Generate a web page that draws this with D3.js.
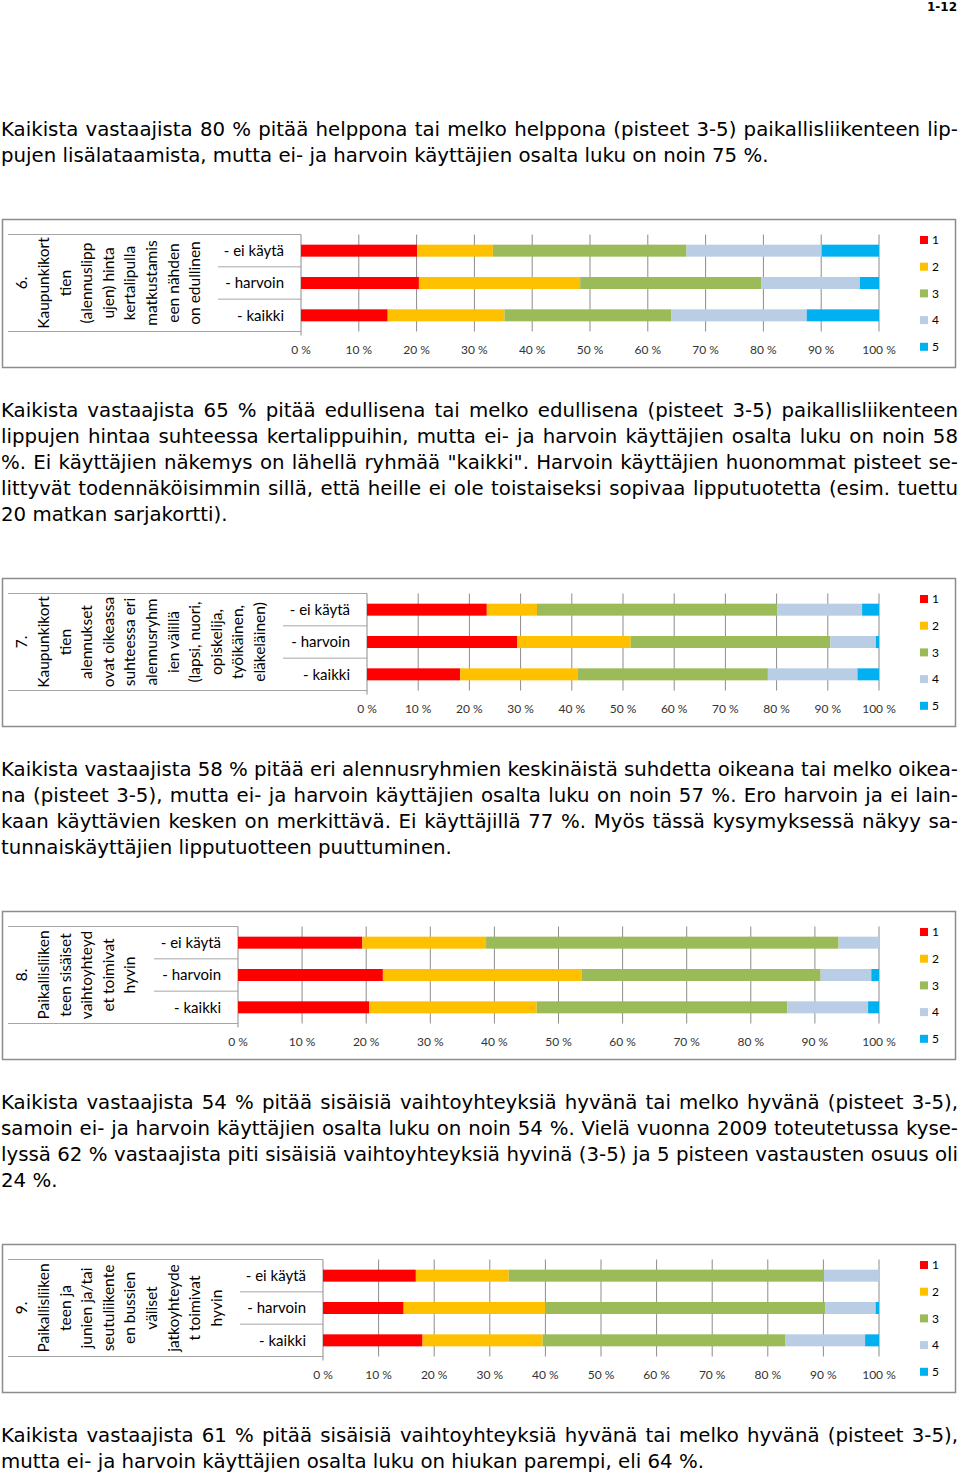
<!DOCTYPE html>
<html><head><meta charset="utf-8">
<script src="https://cdn.jsdelivr.net/npm/d3@7"></script>
<style>
html,body{margin:0;padding:0;background:#fff;}
svg{display:block;}
</style></head>
<body>
<svg id="page" width="960" height="1473"></svg>
<script>
// ---------- DATA ----------
const scoreKeys = ["1", "2", "3", "4", "5"];
const scoreColors = ["#FF0000", "#FFC000", "#9BBB59", "#B9CDE5", "#00B0F0"];
const rowLabels = ["- ei käytä", "- harvoin", "- kaikki"];
const tickValues = [0, 10, 20, 30, 40, 50, 60, 70, 80, 90, 100];
const tickLabels = ["0 %", "10 %", "20 %", "30 %", "40 %", "50 %", "60 %", "70 %", "80 %", "90 %", "100 %"];

const q6Title = ["6.", "Kaupunkikort", "tien", "(alennuslipp", "ujen) hinta", "kertalipulla", "matkustamis", "een nähden", "on edullinen"];
const q6Values = [
  [20.1, 13.1, 33.5, 23.4, 9.9],
  [20.4, 27.9, 31.3, 17.1, 3.3],
  [15.0, 20.2, 28.9, 23.4, 12.5]
];
const q7Title = ["7.", "Kaupunkikort", "tien", "alennukset", "ovat oikeassa", "suhteessa eri", "alennusryhm", "ien välillä", "(lapsi, nuori,", "opiskelija,", "työikäinen,", "eläkeläinen)"];
const q7Values = [
  [23.4, 9.8, 46.9, 16.6, 3.3],
  [29.3, 22.2, 39.0, 8.9, 0.6],
  [18.2, 23.0, 37.1, 17.5, 4.2]
];
const q8Title = ["8.", "Paikallisliiken", "teen sisäiset", "vaihtoyhteyd", "et toimivat", "hyvin"];
const q8Values = [
  [19.4, 19.3, 55.0, 6.3, 0.0],
  [22.6, 31.0, 37.3, 7.9, 1.2],
  [20.5, 26.1, 39.1, 12.6, 1.7]
];
const q9Title = ["9.", "Paikallisliiken", "teen ja", "junien ja/tai", "seutuliikente", "en bussien", "väliset", "jatkoyhteyde", "t toimivat", "hyvin"];
const q9Values = [
  [16.7, 16.7, 56.7, 9.9, 0.0],
  [14.5, 25.5, 50.3, 9.1, 0.6],
  [17.9, 21.6, 43.6, 14.4, 2.5]
];

const para1 = [
  "Kaikista vastaajista 80 % pitää helppona tai melko helppona (pisteet 3-5) paikallisliikenteen lip-",
  "pujen lisälataamista, mutta ei- ja harvoin käyttäjien osalta luku on noin 75 %."
];
const para2 = [
  "Kaikista vastaajista 65 % pitää edullisena tai melko edullisena (pisteet 3-5) paikallisliikenteen",
  "lippujen hintaa suhteessa kertalippuihin, mutta ei- ja harvoin käyttäjien osalta luku on noin 58",
  "%. Ei käyttäjien näkemys on lähellä ryhmää \"kaikki\". Harvoin käyttäjien huonommat pisteet se-",
  "littyvät todennäköisimmin sillä, että heille ei ole toistaiseksi sopivaa lipputuotetta (esim. tuettu",
  "20 matkan sarjakortti)."
];
const para3 = [
  "Kaikista vastaajista 58 % pitää eri alennusryhmien keskinäistä suhdetta oikeana tai melko oikea-",
  "na (pisteet 3-5), mutta ei- ja harvoin käyttäjien osalta luku on noin 57 %. Ero harvoin ja ei lain-",
  "kaan käyttävien kesken on merkittävä. Ei käyttäjillä 77 %. Myös tässä kysymyksessä näkyy sa-",
  "tunnaiskäyttäjien lipputuotteen puuttuminen."
];
const para4 = [
  "Kaikista vastaajista 54 % pitää sisäisiä vaihtoyhteyksiä hyvänä tai melko hyvänä (pisteet 3-5),",
  "samoin ei- ja harvoin käyttäjien osalta luku on noin 54 %. Vielä vuonna 2009 toteutetussa kyse-",
  "lyssä 62 % vastaajista piti sisäisiä vaihtoyhteyksiä hyvinä (3-5) ja 5 pisteen vastausten osuus oli",
  "24 %."
];
const para5 = [
  "Kaikista vastaajista 61 % pitää sisäisiä vaihtoyhteyksiä hyvänä tai melko hyvänä (pisteet 3-5),",
  "mutta ei- ja harvoin käyttäjien osalta luku on hiukan parempi, eli 64 %."
];
const pageLabel = "1-12";

// ---------- DRAW ----------
const svg = d3.select("#page");

// page number
svg.append("text").attr("x", 957).attr("y", 11).attr("text-anchor", "end")
  .attr("font-family", "DejaVu Sans, Verdana, sans-serif").attr("font-weight", "bold")
  .attr("font-size", 12).attr("fill", "#000").text(pageLabel);

// paragraphs
const bodyFont = "DejaVu Sans, Verdana, sans-serif";
const probe = svg.append("text").attr("font-family", bodyFont).attr("font-size", 15).text(para1[1]);
const natW = probe.node().getComputedTextLength();
probe.remove();
const bodySize = 15 * 768 / natW;

function drawParagraph(lines, yCenter) {
  lines.forEach((line, i) => {
    const t = svg.append("text")
      .attr("x", 1).attr("y", yCenter + 5.5 + i * 26)
      .attr("font-family", bodyFont).attr("font-size", bodySize)
      .attr("fill", "#000").attr("xml:space", "preserve").text(line);
    if (i < lines.length - 1) {
      const w = t.node().getComputedTextLength();
      const spaces = (line.match(/ /g) || []).length;
      if (spaces > 0) t.attr("word-spacing", (957 - w) / spaces);
    }
  });
}
drawParagraph(para1, 130);
drawParagraph(para2, 411);
drawParagraph(para3, 770);
drawParagraph(para4, 1103);
drawParagraph(para5, 1436);

// charts
const chartFont = "Lato, Carlito, Calibri, sans-serif";
function drawChart(top, plotX0, labelColX, titleLines, values) {
  const g = svg.append("g");
  // frame
  g.append("rect").attr("x", 2.5).attr("y", top + 0.5).attr("width", 953).attr("height", 148)
    .attr("fill", "#fff").attr("stroke", "#8c8c8c").attr("stroke-width", 1.5);

  const plotTop = top + 15.5, plotBot = top + 112.5;
  const x = d3.scaleLinear().domain([0, 100]).range([plotX0, 879]);
  const y = d3.scaleBand().domain(rowLabels).range([plotTop, plotBot]).paddingInner(0).paddingOuter(0);

  // table lines on the left
  const lineCol = "#a6a6a6";
  g.append("line").attr("x1", 8).attr("x2", plotX0).attr("y1", plotTop).attr("y2", plotTop).attr("stroke", lineCol);
  g.append("line").attr("x1", 8).attr("x2", plotX0).attr("y1", plotBot).attr("y2", plotBot).attr("stroke", lineCol);
  rowLabels.slice(1).forEach(r => {
    g.append("line").attr("x1", labelColX).attr("x2", plotX0)
      .attr("y1", y(r)).attr("y2", y(r)).attr("stroke", lineCol);
  });

  // gridlines
  g.append("g").selectAll("line").data(tickValues.slice(1)).join("line")
    .attr("x1", d => x(d)).attr("x2", d => x(d))
    .attr("y1", plotTop).attr("y2", plotBot)
    .attr("stroke", "#8c8c8c").attr("stroke-width", 1);
  // axis line
  g.append("line").attr("x1", plotX0).attr("x2", plotX0).attr("y1", plotTop).attr("y2", plotBot + 4)
    .attr("stroke", "#8c8c8c");

  // tick labels
  g.append("g").selectAll("text").data(tickValues).join("text")
    .attr("x", d => x(d)).attr("y", top + 135)
    .attr("text-anchor", "middle").attr("font-family", chartFont).attr("font-size", 12)
    .attr("fill", "#333").text((d, i) => tickLabels[i]);

  // stacked bars
  const rows = values.map((v, i) => {
    const obj = { label: rowLabels[i] };
    scoreKeys.forEach((k, j) => obj[k] = v[j]);
    return obj;
  });
  const series = d3.stack().keys(scoreKeys)(rows);
  const barH = 12;
  g.append("g").selectAll("g").data(series).join("g")
    .attr("fill", (d, i) => scoreColors[i])
    .selectAll("rect").data(d => d).join("rect")
    .attr("x", d => x(d[0])).attr("width", d => Math.max(0, x(d[1]) - x(d[0])))
    .attr("y", d => y(d.data.label) + (y.bandwidth() - barH) / 2)
    .attr("height", barH);

  // row labels
  g.append("g").selectAll("text").data(rowLabels).join("text")
    .attr("x", plotX0 - 17).attr("y", d => y(d) + y.bandwidth() / 2)
    .attr("dy", "0.35em").attr("text-anchor", "end")
    .attr("font-family", chartFont).attr("font-size", 15).attr("fill", "#000").text(d => d);

  // rotated title
  const cy = (plotTop + plotBot) / 2;
  g.append("g").selectAll("text").data(titleLines).join("text")
    .attr("transform", (d, i) => `translate(${22 + i * 21.6},${cy}) rotate(-90)`)
    .attr("dy", "0.35em").attr("text-anchor", "middle")
    .attr("font-family", chartFont).attr("font-size", 15.5).attr("fill", "#000").text(d => d);

  // legend
  const lg = g.append("g").selectAll("g").data(scoreKeys).join("g")
    .attr("transform", (d, i) => `translate(920,${top + 21 + i * 26.7})`);
  lg.append("rect").attr("x", 0).attr("y", -4).attr("width", 8).attr("height", 8)
    .attr("fill", (d, i) => scoreColors[i]);
  lg.append("text").attr("x", 12).attr("y", 0).attr("dy", "0.35em")
    .attr("font-family", chartFont).attr("font-size", 12).attr("fill", "#000").text(d => d);
}

drawChart(219, 301, 218, q6Title, q6Values);
drawChart(578, 367, 283, q7Title, q7Values);
drawChart(911, 238, 154, q8Title, q8Values);
drawChart(1244, 323, 240, q9Title, q9Values);
</script>
</body></html>
